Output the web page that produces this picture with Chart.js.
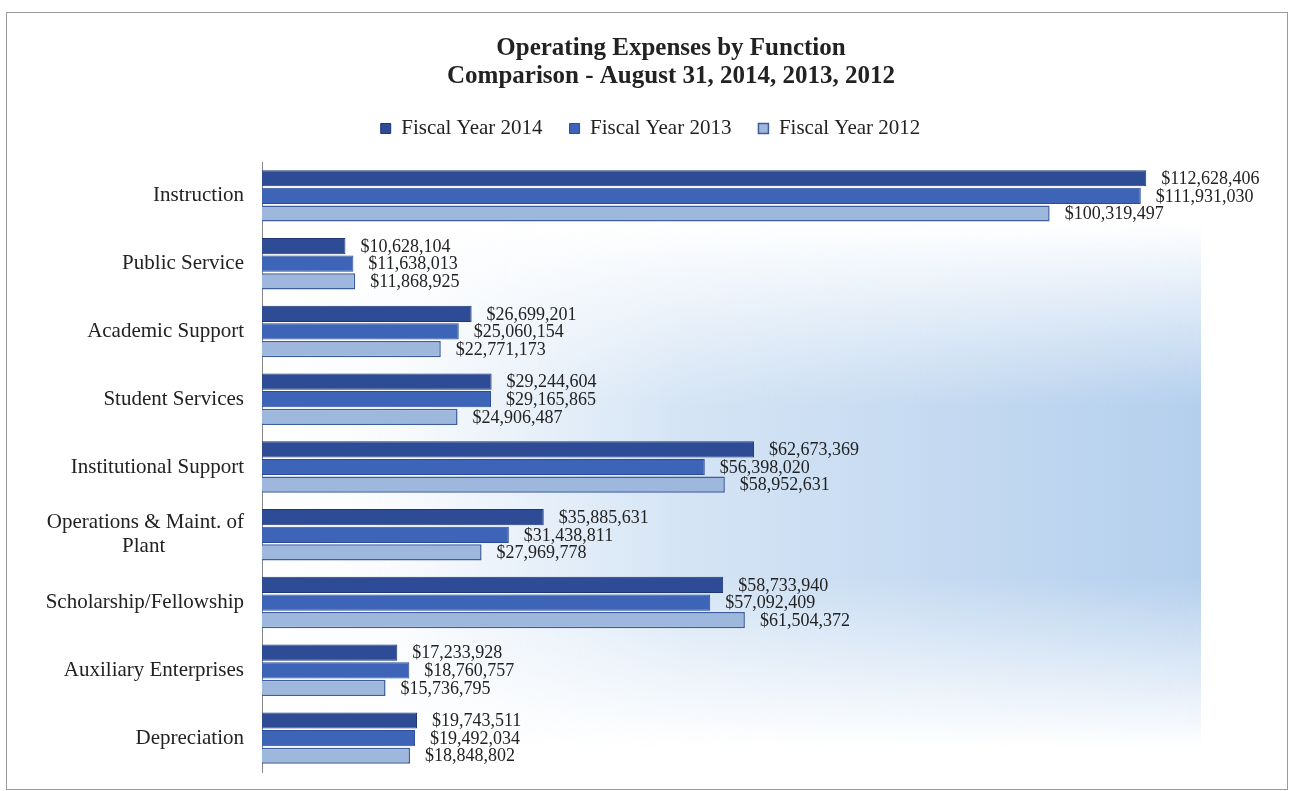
<!DOCTYPE html>
<html>
<head>
<meta charset="utf-8">
<title>Operating Expenses by Function</title>
<script src="https://cdn.jsdelivr.net/npm/chart.js@4.4.1/dist/chart.umd.min.js"></script>
<style>
  html, body { margin: 0; padding: 0; background: #fff; }
  #frame {
    position: absolute; left: 6px; top: 12px;
    width: 1280px; height: 776px;
    border: 1px solid #9a9a9a;
  }
  #wrap { position: absolute; left: 0; top: 0; width: 1294px; height: 791px; }
</style>
</head>
<body>
<div id="frame"></div>
<div id="wrap"><canvas id="expenseChart" width="1294" height="791"></canvas></div>
<script>
// expense functions, top to bottom
const categories = [
  'Instruction',
  'Public Service',
  'Academic Support',
  'Student Services',
  'Institutional Support',
  ['Operations & Maint. of', 'Plant' + ' '.repeat(15)],
  'Scholarship/Fellowship',
  'Auxiliary Enterprises',
  'Depreciation'
];

const years = ['Fiscal Year 2014', 'Fiscal Year 2013', 'Fiscal Year 2012'];

const fy2014 = [112628406, 10628104, 26699201, 29244604, 62673369, 35885631, 58733940, 17233928, 19743511];
const fy2013 = [111931030, 11638013, 25060154, 29165865, 56398020, 31438811, 57092409, 18760757, 19492034];
const fy2012 = [100319497, 11868925, 22771173, 24906487, 58952631, 27969778, 61504372, 15736795, 18848802];

const serif = '"Liberation Serif", "Times New Roman", serif';

// soft blue wash behind the bars
const backdrop = {
  id: 'backdrop',
  beforeDraw(chart) {
    const { ctx, chartArea: a } = chart;
    ctx.save();
    const h = ctx.createLinearGradient(a.left, 0, a.right, 0);
    h.addColorStop(0, 'rgba(184,210,238,0)');
    h.addColorStop(0.15, 'rgba(184,210,238,0.1)');
    h.addColorStop(0.45, 'rgba(184,210,238,0.6)');
    h.addColorStop(1, 'rgba(180,207,237,1)');
    ctx.fillStyle = h;
    ctx.fillRect(a.left, a.top, a.right - a.left, a.bottom - a.top);
    const v = ctx.createLinearGradient(0, a.top, 0, a.bottom);
    v.addColorStop(0, 'rgba(255,255,255,1)');
    v.addColorStop(0.1, 'rgba(255,255,255,1)');
    v.addColorStop(0.4, 'rgba(255,255,255,0)');
    v.addColorStop(0.68, 'rgba(255,255,255,0)');
    v.addColorStop(0.96, 'rgba(255,255,255,1)');
    v.addColorStop(1, 'rgba(255,255,255,1)');
    ctx.fillStyle = v;
    ctx.fillRect(a.left, a.top, a.right - a.left, a.bottom - a.top);
    ctx.restore();
  }
};

// dollar amounts at the end of each bar
const valueLabels = {
  id: 'valueLabels',
  afterDatasetsDraw(chart) {
    const ctx = chart.ctx;
    ctx.save();
    ctx.font = '18px ' + serif;
    ctx.fillStyle = '#222';
    ctx.textAlign = 'left';
    ctx.textBaseline = 'middle';
    chart.data.datasets.forEach((ds, i) => {
      chart.getDatasetMeta(i).data.forEach((bar, j) => {
        ctx.fillText('$' + ds.data[j].toLocaleString('en-US'), bar.x + 15, bar.y + 1);
      });
    });
    ctx.restore();
  }
};

// title and legend sit a little right of the canvas centre
const headerShift = {
  id: 'headerShift',
  afterLayout(chart) {
    if (chart.titleBlock) chart.titleBlock.left += 141;
    if (chart.legend) chart.legend.left += 100;
  }
};

new Chart(document.getElementById('expenseChart'), {
  type: 'bar',
  data: {
    labels: categories,
    datasets: [
      { label: years[0], data: fy2014, backgroundColor: '#2e4c95', borderColor: '#1f3675', borderWidth: 1 },
      { label: years[1], data: fy2013, backgroundColor: '#3d64b7', borderColor: '#2a4c97', borderWidth: 1 },
      { label: years[2], data: fy2012, backgroundColor: '#9db7dd', borderColor: '#3e5d9c', borderWidth: 1.5 }
    ]
  },
  options: {
    indexAxis: 'y',
    responsive: false,
    animation: false,
    events: [],
    barPercentage: 0.92,
    categoryPercentage: 0.78,
    layout: { padding: { left: 0, right: 93, top: 0, bottom: 19 } },
    scales: {
      x: {
        position: 'top',
        min: 0,
        max: 119600000,
        ticks: { display: false },
        grid: { display: false },
        border: { display: false },
        afterFit(scale) { scale.height = 13; }
      },
      y: {
        grid: { drawOnChartArea: false, drawTicks: false },
        border: { display: true, color: '#888', width: 1 },
        ticks: {
          padding: 18,
          color: '#222',
          font: { family: serif, size: 21, lineHeight: 1.15 }
        },
        afterFit(scale) {
          scale.width = 262;
          scale.paddingTop = 0;
          scale.paddingBottom = 0;
        }
      }
    },
    plugins: {
      title: {
        display: true,
        text: ['Operating Expenses by Function', 'Comparison - August 31, 2014, 2013, 2012'],
        color: '#222',
        font: { family: serif, size: 25, weight: 'bold', lineHeight: 1.12 },
        padding: { top: 35, bottom: 0 }
      },
      legend: {
        position: 'top',
        labels: {
          boxWidth: 10,
          boxHeight: 10,
          padding: 27,
          color: '#222',
          font: { family: serif, size: 21 }
        }
      },
      tooltip: { enabled: false }
    }
  },
  plugins: [backdrop, valueLabels, headerShift]
});
</script>
</body>
</html>
